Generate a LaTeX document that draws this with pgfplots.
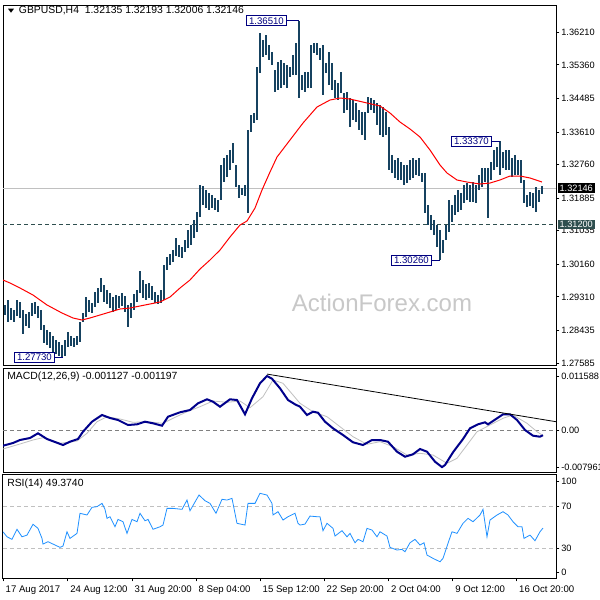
\documentclass[border=0pt]{standalone}
\usepackage{pgfplots}
\usepackage{pgfplotstable}
\pgfplotsset{compat=1.18}
\usepackage{fontspec}
\setmainfont{Liberation Sans}

\definecolor{barcol}{RGB}{22,66,96}
\definecolor{macdblue}{RGB}{0,0,139}
\definecolor{sigcol}{RGB}{192,192,192}
\definecolor{rsiblue}{RGB}{30,144,255}
\definecolor{slate}{RGB}{47,79,79}
\definecolor{boxblue}{RGB}{0,0,128}
\definecolor{wmark}{RGB}{200,200,200}

% GBPUSD H4 bars: x (bar position), high, low
\pgfplotstableread{
x h l
5 1.29098 1.28837
8 1.29228 1.28654
11 1.29019 1.28706
14 1.28967 1.28654
17 1.29228 1.28811
20 1.29176 1.28759
23 1.28967 1.28341
26 1.28863 1.28550
29 1.28915 1.28498
32 1.29150 1.28811
35 1.29176 1.28863
38 1.29072 1.28759
41 1.28967 1.28446
44 1.28576 1.28107
47 1.28446 1.28055
50 1.28394 1.27977
53 1.28289 1.27872
56 1.28185 1.27820
59 1.28133 1.27768
62 1.28055 1.27730
65 1.28185 1.27768
68 1.28394 1.28003
71 1.28289 1.28029
74 1.28237 1.28003
77 1.28289 1.28055
80 1.28654 1.28133
83 1.28889 1.28654
86 1.29306 1.28785
89 1.29228 1.28915
92 1.29150 1.28889
95 1.29437 1.29046
98 1.29541 1.29150
101 1.29802 1.29437
104 1.29619 1.29176
107 1.29489 1.29124
110 1.29411 1.29019
113 1.29306 1.28915
116 1.29358 1.28967
119 1.29332 1.29019
122 1.29411 1.29072
125 1.29332 1.28915
128 1.29098 1.28524
131 1.29150 1.28759
134 1.29385 1.28967
137 1.29489 1.29176
140 1.29984 1.29411
143 1.29750 1.29280
146 1.29645 1.29228
149 1.29671 1.29280
152 1.29593 1.29228
155 1.29437 1.29150
158 1.29358 1.29124
161 1.29489 1.29150
164 1.30141 1.29228
167 1.30349 1.30010
170 1.30427 1.30141
173 1.30531 1.30219
176 1.30845 1.30375
179 1.30662 1.30349
182 1.30610 1.30323
185 1.30793 1.30480
188 1.31054 1.30584
191 1.31184 1.30662
194 1.31314 1.30845
197 1.31523 1.31002
200 1.32227 1.31393
203 1.32201 1.31706
206 1.32097 1.31627
209 1.32019 1.31575
212 1.31966 1.31627
215 1.31888 1.31575
218 1.31836 1.31523
221 1.32749 1.31836
224 1.32931 1.32305
227 1.33010 1.32436
230 1.33140 1.32618
233 1.33323 1.32801
236 1.32749 1.32175
239 1.32227 1.31888
242 1.32149 1.31966
245 1.32227 1.31940
248 1.33662 1.31497
251 1.34053 1.33610
254 1.34105 1.33844
257 1.35305 1.33922
260 1.36191 1.35148
263 1.36009 1.35565
266 1.36139 1.35618
269 1.35878 1.35487
272 1.35696 1.35357
275 1.35226 1.34653
278 1.35435 1.34705
281 1.35487 1.34757
284 1.35409 1.34835
287 1.35357 1.34757
290 1.35305 1.35044
293 1.35618 1.35096
296 1.35931 1.35096
299 1.36510 1.34496
302 1.35096 1.34705
305 1.35174 1.34653
308 1.35174 1.34757
311 1.35878 1.34757
314 1.35931 1.35670
317 1.35931 1.35618
320 1.35800 1.35487
323 1.35878 1.34574
326 1.35409 1.35148
329 1.35696 1.34835
332 1.35409 1.34705
335 1.34966 1.34496
338 1.34887 1.34444
341 1.35174 1.34627
344 1.34627 1.34107
347 1.34653 1.34183
350 1.34496 1.33740
353 1.34444 1.33922
356 1.34366 1.33870
359 1.34183 1.33662
362 1.34131 1.33531
365 1.34131 1.33401
368 1.34522 1.34105
371 1.34496 1.34183
374 1.34444 1.34105
377 1.34366 1.33792
380 1.34314 1.33531
383 1.34262 1.33479
386 1.34131 1.33531
389 1.33740 1.32618
392 1.33010 1.32540
395 1.32879 1.32410
398 1.32931 1.32358
401 1.32827 1.32358
404 1.32749 1.32227
407 1.32749 1.32279
410 1.32879 1.32358
413 1.32931 1.32410
416 1.32879 1.32488
419 1.32931 1.32462
422 1.32540 1.32305
425 1.32540 1.31497
428 1.31706 1.31184
431 1.31445 1.31054
434 1.31314 1.30923
437 1.31184 1.30610
440 1.31054 1.30260
443 1.30793 1.30453
446 1.31184 1.30793
449 1.31836 1.31002
452 1.31706 1.31262
455 1.31966 1.31445
458 1.32097 1.31523
461 1.32019 1.31575
464 1.32227 1.31758
467 1.32279 1.31836
470 1.32227 1.31784
473 1.32305 1.31784
476 1.32227 1.31758
479 1.32488 1.32097
482 1.32670 1.32175
485 1.32670 1.32305
488 1.32670 1.31366
491 1.32827 1.32358
494 1.33140 1.32618
497 1.33218 1.32697
500 1.33370 1.32488
503 1.33088 1.32671
506 1.33140 1.32618
509 1.33140 1.32618
512 1.32931 1.32436
515 1.33010 1.32488
518 1.32879 1.32488
521 1.32879 1.32279
524 1.32358 1.31758
527 1.31966 1.31654
530 1.32045 1.31680
533 1.32019 1.31627
536 1.32175 1.31523
539 1.32097 1.31784
542 1.32193 1.32006
}\bars

% moving average (red)
\pgfplotstableread{
x y
3 1.29750
10 1.29671
20 1.29541
33 1.29358
47 1.29098
62 1.28889
73 1.28759
82 1.28706
90 1.28759
100 1.28837
110 1.28915
120 1.28993
130 1.29019
140 1.29072
150 1.29124
160 1.29176
170 1.29306
180 1.29541
190 1.29750
200 1.30036
210 1.30271
220 1.30531
230 1.30871
240 1.31184
247 1.31288
255 1.31627
262 1.32097
270 1.32566
277 1.32957
290 1.33401
303 1.33844
317 1.34262
330 1.34444
340 1.34496
350 1.34470
367 1.34366
380 1.34288
390 1.34105
400 1.33870
410 1.33688
420 1.33479
430 1.33140
440 1.32749
447 1.32540
457 1.32358
467 1.32305
480 1.32253
490 1.32279
500 1.32358
510 1.32462
520 1.32462
530 1.32410
542 1.32305
}\ma

% MACD main line
\pgfplotstableread{
x y
3 -0.003369
13 -0.002790
20 -0.002146
30 -0.001717
38 -0.000708
47 -0.001931
55 -0.002575
63 -0.003219
70 -0.002511
78 -0.001931
83 -0.000365
92 0.001781
102 0.003219
110 0.002575
118 0.002146
128 0.001073
137 0.001223
145 0.001781
153 0.001438
162 0.000923
168 0.002854
180 0.003798
190 0.004292
198 0.005730
207 0.006588
213 0.006073
220 0.005000
230 0.006588
237 0.006438
245 0.003369
252 0.006803
260 0.010022
267 0.011588
272 0.011000
280 0.008949
288 0.006438
295 0.005515
300 0.005000
307 0.003219
313 0.003927
318 0.003713
325 0.001781
333 0.000365
343 -0.001073
353 -0.002640
363 -0.003219
372 -0.002146
380 -0.002146
388 -0.002511
397 -0.004657
405 -0.005730
413 -0.005215
420 -0.004077
427 -0.004657
435 -0.006803
442 -0.007961
445 -0.007511
453 -0.004786
463 -0.001931
470 0.000365
478 0.001223
485 0.001652
488 0.001223
497 0.002511
503 0.003369
510 0.003369
517 0.002146
525 0.000000
533 -0.001223
540 -0.001438
543 -0.001127
}\macd

% MACD signal line
\pgfplotstableread{
x y
3 -0.004077
20 -0.003004
33 -0.002146
43 -0.001652
60 -0.002854
77 -0.002361
87 -0.000708
97 0.001781
107 0.002854
120 0.002361
133 0.001652
147 0.001781
163 0.001438
173 0.002511
187 0.003927
200 0.005000
213 0.006223
227 0.005944
240 0.006223
250 0.004786
263 0.007146
273 0.010730
283 0.010022
293 0.007511
300 0.005730
313 0.003927
327 0.002854
340 0.000708
353 -0.001438
367 -0.003069
380 -0.002511
393 -0.003584
407 -0.005365
420 -0.005000
433 -0.005365
447 -0.007146
457 -0.006073
467 -0.003219
477 -0.000365
490 0.001073
503 0.002511
513 0.003219
527 0.001438
537 -0.000365
543 -0.001197
}\signal

% RSI(14)
\pgfplotstableread{
x y
3 45.9
7 41.2
12 38.8
17 48.2
22 41.2
27 42.8
33 52.9
38 49.1
42 39.7
43 34.4
48 36.6
55 33.5
60 31.3
63 32.5
67 45.9
70 39.7
77 44.4
80 63.2
87 61.6
92 68.8
97 69.4
102 72.5
105 66.9
107 58.5
110 60.0
115 50.6
118 57.5
123 55.3
127 44.4
132 57.5
137 55.3
140 63.2
145 56.2
148 57.5
153 48.2
160 50.6
163 52.2
167 67.8
173 67.8
182 66.9
187 75.6
190 65.6
199 80.3
205 75.0
210 72.5
216 63.2
222 76.3
227 75.6
232 77.2
237 53.8
245 52.2
248 72.5
255 72.5
260 81.9
267 80.3
272 72.5
273 61.6
278 64.7
283 56.9
288 60.0
295 63.2
298 53.8
300 52.2
305 53.1
310 60.6
317 60.0
320 60.0
323 46.9
327 53.8
333 49.1
335 41.9
342 46.9
347 41.2
350 44.4
355 35.6
358 38.8
363 36.6
367 49.1
372 47.5
377 41.2
380 45.9
387 41.9
390 31.3
397 28.8
402 29.4
405 27.2
410 35.6
415 38.8
420 33.5
424 35.6
427 24.1
433 21.0
440 17.8
443 21.0
448 35.1
452 45.9
457 44.4
463 53.8
468 58.5
473 55.3
480 61.6
483 66.9
487 41.2
490 56.9
497 61.6
503 64.7
508 61.6
513 55.3
518 50.6
522 50.6
524 39.7
530 42.8
535 37.5
540 45.9
543 49.4
}\rsi

\pgfplotsset{
  panel/.style={
    scale only axis, width=414.75pt, xmin=3, xmax=556,
    anchor=north west,
    axis line style={black, line width=0.75pt},
    xtick=\empty,
    scaled ticks=false,
    ytick pos=right, yticklabel pos=right,
    tick align=outside, major tick length=2.5pt,
    tick style={black, line width=0.6pt},
    ticklabel style={font=\fontsize{7.2}{8}\selectfont},
    yticklabel style={anchor=west, xshift=-2pt, font=\fontsize{6.9}{8}\selectfont},
  },
}
\tikzset{
  hl/.style={draw=boxblue, fill=white, text=boxblue, anchor=east, inner xsep=2pt,
    inner ysep=1.2pt, line width=0.75pt, font=\fontsize{7.2}{8}\selectfont},
}

\begin{document}
\begin{tikzpicture}
\useasboundingbox (0,0) rectangle (450pt,-450pt);
\fill[white] (0,0) rectangle (450pt,-450pt);

% ---- price panel
\begin{axis}[panel, at={(2.25pt,-3.75pt)}, height=270pt,
    ymin=1.27533, ymax=1.36922,
    ytick={1.27585,1.28435,1.29310,1.30160,1.31035,1.31885,1.32760,1.33610,1.34485,1.35360,1.36210},
    yticklabels={1.27585,1.28435,1.29310,1.30160,1.31035,1.31885,1.32760,1.33610,1.34485,1.35360,1.36210},
]
\node[wmark, font=\fontsize{18}{20}\selectfont] at (axis cs:382,1.29150) {ActionForex.com};
\draw[sigcol, line width=0.75pt] (axis cs:3,1.32146) -- (axis cs:556,1.32146);
\draw[slate, line width=0.75pt, dash pattern=on 3pt off 2.25pt] (axis cs:3,1.31200) -- (axis cs:556,1.31200);
\addplot[draw=none, mark=none,
    error bars/.cd, y dir=both, y explicit, error mark=none,
    error bar style={draw=barcol, line width=0.8pt}]
  table[x=x, y expr={(\thisrow{h}+\thisrow{l})/2}, y error expr={(\thisrow{h}-\thisrow{l})/2}] {\bars};
\addplot[red, line width=0.75pt, mark=none] table[x=x, y=y] {\ma};
% high / low labels
\draw[boxblue, line width=0.75pt] (axis cs:287,1.36510) -- (axis cs:299,1.36510);
\node[hl] at (axis cs:287,1.36510) {1.36510};
\draw[boxblue, line width=0.75pt] (axis cs:492,1.33370) -- (axis cs:500,1.33370);
\node[hl] at (axis cs:492,1.33370) {1.33370};
\draw[boxblue, line width=0.75pt] (axis cs:432,1.30260) -- (axis cs:440,1.30260);
\node[hl] at (axis cs:432,1.30260) {1.30260};
\draw[boxblue, line width=0.75pt] (axis cs:55,1.27730) -- (axis cs:63,1.27730);
\node[hl] at (axis cs:55,1.27730) {1.27730};
\coordinate (bid) at (axis cs:556,1.32146);
\coordinate (sup) at (axis cs:556,1.31200);
\end{axis}
\node[anchor=west, fill=black, text=white, inner xsep=1.5pt, inner ysep=1.2pt, font=\fontsize{6.9}{8}\selectfont] at ([xshift=1pt]bid) {1.32146};
\node[anchor=west, fill=slate, text=white, inner xsep=1.5pt, inner ysep=1.2pt, font=\fontsize{6.9}{8}\selectfont] at ([xshift=1pt]sup) {1.31200};
\fill[black] (6pt,-6.5pt) -- (10.5pt,-6.5pt) -- (8.25pt,-9.5pt) -- cycle;
\node[anchor=west, inner sep=0pt, font=\fontsize{7.8}{9}\selectfont] at (14pt,-8.25pt) {GBPUSD,H4\ \ 1.32135 1.32193 1.32006 1.32146};

% ---- MACD panel
\begin{axis}[panel, at={(2.25pt,-276pt)}, height=78pt,
    ymin=-0.009013, ymax=0.013305,
    ytick={-0.007961,0,0.011588},
    yticklabels={-0.007961,0.00,0.011588},
]
\draw[gray, line width=0.6pt, dash pattern=on 3pt off 2.25pt] (axis cs:3,0) -- (axis cs:556,0);
\addplot[sigcol, line width=0.6pt, mark=none] table[x=x, y=y] {\signal};
\addplot[macdblue, line width=1.5pt, mark=none] table[x=x, y=y] {\macd};
\draw[black, line width=0.6pt] (axis cs:267,0.01200) -- (axis cs:556,0.00178);
\end{axis}
\node[anchor=west, inner sep=0pt, font=\fontsize{7.8}{9}\selectfont] at (5.25pt,-282.75pt) {MACD(12,26,9) -0.001127 -0.001197};

% ---- RSI panel
\begin{axis}[panel, at={(2.25pt,-355.5pt)}, height=78pt,
    ymin=2.6, ymax=100,
    ytick={7.9,30,70,92.8},
    yticklabels={0,30,70,100},
    xtick={3,67.7,132,196,260,324,388.5,452.7,516.5},
    xticklabels={17 Aug 2017,24 Aug 12:00,31 Aug 20:00,8 Sep 04:00,15 Sep 12:00,22 Sep 20:00,2 Oct 04:00,9 Oct 12:00,16 Oct 20:00},
    xtick pos=bottom,
    xticklabel style={anchor=north west, xshift=-1.5pt},
]
\draw[sigcol, line width=0.6pt, dash pattern=on 3pt off 2.25pt] (axis cs:3,70) -- (axis cs:556,70);
\draw[sigcol, line width=0.6pt, dash pattern=on 3pt off 2.25pt] (axis cs:3,30) -- (axis cs:556,30);
\addplot[rsiblue, line width=0.6pt, mark=none] table[x=x, y=y] {\rsi};
\end{axis}
\node[anchor=west, inner sep=0pt, font=\fontsize{7.8}{9}\selectfont] at (5.25pt,-363pt) {RSI(14) 49.3740};
\end{tikzpicture}
\end{document}
